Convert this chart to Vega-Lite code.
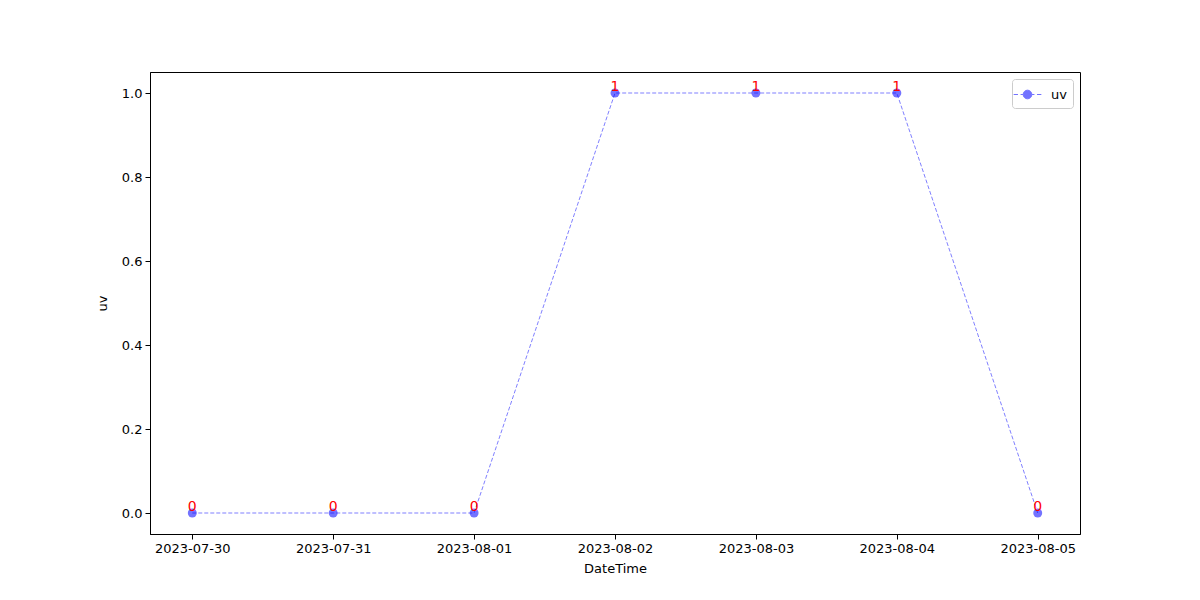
{
  "$schema": "https://vega.github.io/schema/vega-lite/v6.json",
  "width": 930,
  "height": 462,
  "autosize": {"type": "none"},
  "padding": {"left": 150, "top": 72, "right": 120, "bottom": 66},
  "background": "white",
  "config": {
    "view": {"stroke": "black", "strokeWidth": 1},
    "font": "DejaVu Sans",
    "axis": {
      "grid": false,
      "domainColor": "black",
      "tickColor": "black",
      "labelColor": "black",
      "titleColor": "black",
      "labelFontSize": 13,
      "titleFontSize": 13,
      "titleFontWeight": "normal",
      "tickSize": 5,
      "labelPadding": 3
    }
  },
  "data": {
    "values": [
      {"DateTime": "2023-07-30", "uv": 0},
      {"DateTime": "2023-07-31", "uv": 0},
      {"DateTime": "2023-08-01", "uv": 0},
      {"DateTime": "2023-08-02", "uv": 1},
      {"DateTime": "2023-08-03", "uv": 1},
      {"DateTime": "2023-08-04", "uv": 1},
      {"DateTime": "2023-08-05", "uv": 0}
    ]
  },
  "encoding": {
    "x": {
      "field": "DateTime",
      "type": "ordinal",
      "scale": {"type": "point", "padding": 0.3},
      "axis": {"labelAngle": 0, "title": "DateTime", "titlePadding": 7}
    },
    "y": {
      "field": "uv",
      "type": "quantitative",
      "scale": {"domain": [-0.05, 1.05], "nice": false, "zero": false},
      "axis": {"values": [0, 0.2, 0.4, 0.6, 0.8, 1.0], "format": ".1f", "title": "uv", "titlePadding": 12}
    }
  },
  "layer": [
    {
      "mark": {"type": "line", "color": "blue", "opacity": 0.5, "strokeDash": [4, 2], "strokeWidth": 1}
    },
    {
      "mark": {"type": "point", "shape": "circle", "filled": true, "size": 80, "opacity": 0.55},
      "encoding": {
        "color": {
          "datum": "uv",
          "type": "nominal",
          "scale": {"range": ["blue"]},
          "legend": {
            "title": null,
            "orient": "top-right",
            "offset": 7,
            "symbolType": "M -1.6 0 L -1.1 0 M -0.8 0 L -0.5 0 A 0.5 0.5 0 1 1 0.5 0 A 0.5 0.5 0 1 1 -0.5 0 M 0.5 0 L 0.8 0 M 1.1 0 L 1.6 0",
            "symbolSize": 300,
            "symbolStrokeWidth": 1,
            "symbolOpacity": 0.55,
            "symbolStrokeColor": "blue",
            "symbolFillColor": "blue",
            "labelFontSize": 13,
            "labelOffset": 14,
            "labelColor": "black",
            "strokeColor": "#cccccc",
            "fillColor": "white",
            "cornerRadius": 3,
            "padding": 6
          }
        }
      }
    },
    {
      "mark": {"type": "text", "color": "red", "fontSize": 14, "align": "center", "baseline": "alphabetic", "dy": -2},
      "encoding": {"text": {"field": "uv", "type": "quantitative"}}
    }
  ]
}
